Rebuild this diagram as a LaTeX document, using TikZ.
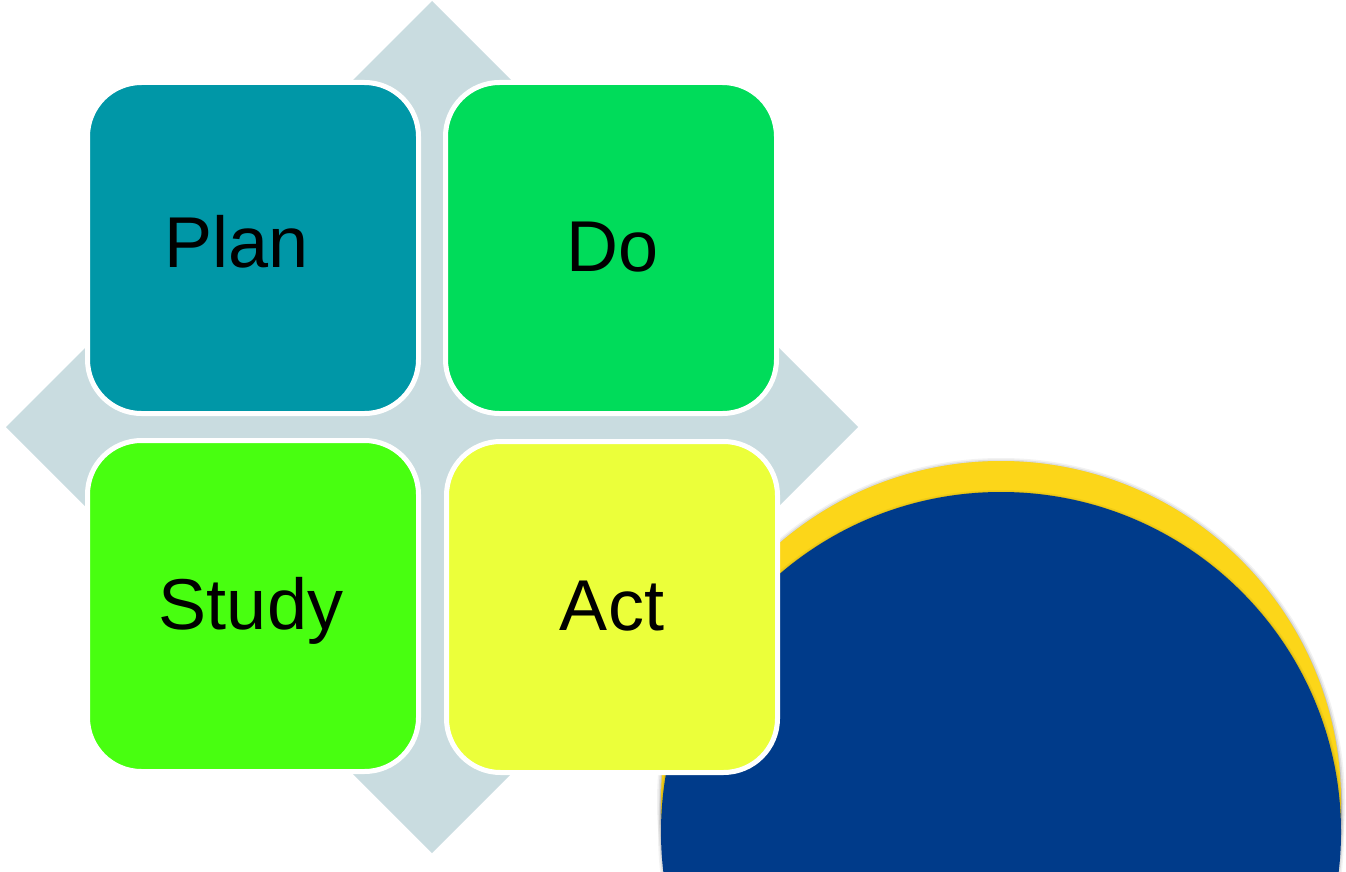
\documentclass[tikz,border=0pt]{standalone}
\usepackage{fontspec}
\setmainfont{Liberation Sans}
\definecolor{backdrop}{RGB}{201,220,224}
\definecolor{plancol}{RGB}{0,151,167}
\definecolor{docol}{RGB}{0,220,90}
\definecolor{studycol}{RGB}{72,255,16}
\definecolor{actcol}{RGB}{235,255,58}
\definecolor{ringcol}{RGB}{252,214,25}
\definecolor{discol}{RGB}{0,59,138}
\begin{document}
\begin{tikzpicture}[x=1pt,y=-1pt,
  cell/.style={draw=white, line width=5pt, rounded corners=54pt,
    minimum width=331pt, minimum height=331pt, inner sep=0pt},
  lbl/.style={font=\fontsize{72}{72}\selectfont, anchor=base, inner sep=0pt}]
\useasboundingbox (0,0) rectangle (1346,872);
\begin{scope}
  \clip (0,0) rectangle (1346,872);
  % grey diamond behind the four cells
  \fill[backdrop] (432,1) -- (858,427) -- (432,853) -- (6,427) -- cycle;
  % soft halo under the discs
  \foreach \r/\o in {344/0.05,342.5/0.08,341/0.12}{
    \fill[black, opacity=\o] (1001,802) circle (\r);
  }
  \fill[ringcol] (1001,801) circle (340);
  \foreach \r/\o in {343/0.05,341.5/0.08}{
    \fill[black, opacity=\o] (1001,833) circle (\r);
  }
  \fill[discol] (1001,832) circle (340);
\end{scope}
% the four cells
\node[cell, fill=plancol] (plan) at (253,248) {};
\node[cell, fill=docol] (do) at (611,248) {};
\node[cell, fill=studycol] (study) at (253,606) {};
\node[cell, fill=actcol] (act) at (612,607) {};
% labels
\node[lbl] (plantxt) at (237,267) {Plan};
\node[lbl] (dotxt) at (613,271) {Do};
\node[lbl] (studytxt) at (251,629) {Study};
\node[lbl] (acttxt) at (612,630) {Act};
\end{tikzpicture}
\end{document}
